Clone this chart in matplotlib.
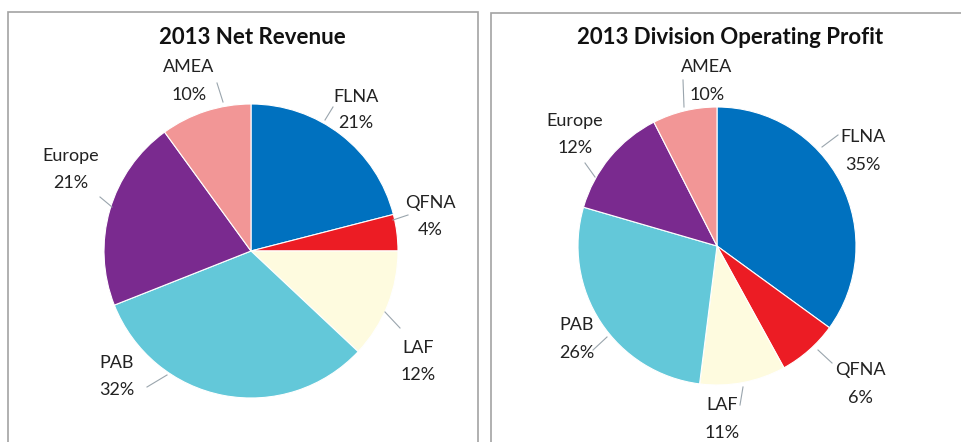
import matplotlib
matplotlib.use("Agg")
from matplotlib import pyplot as plt
from matplotlib.patches import Rectangle

plt.rcParams['font.family'] = ['Lato', 'DejaVu Sans']

divisions = ["FLNA", "QFNA", "LAF", "PAB", "Europe", "AMEA"]
colors = ["#0071BF", "#EC1C24", "#FEFBDF", "#63C8D9", "#7A2A8F", "#F29696"]

# 2013 net revenue (share, %)
revenue_values = [21, 4, 12, 32, 21, 10]
revenue_labels = ["21%", "4%", "12%", "32%", "21%", "10%"]

# 2013 division operating profit (slice sizes as drawn, labels as printed)
profit_values = [35, 7, 10, 27.5, 13, 7.5]
profit_labels = ["35%", "6%", "11%", "26%", "12%", "10%"]

W, H = 961, 442
fig = plt.figure(figsize=(W / 100, H / 100), dpi=100)
ax = fig.add_axes([0, 0, 1, 1])


def py(y):
    # pixel row -> data y (y up)
    return H - y


def draw_pie(values, center, radius):
    ax.pie(values, colors=colors, startangle=90, counterclock=False,
           center=(center[0], py(center[1])), radius=radius,
           wedgeprops=dict(edgecolor="white", linewidth=0.8))


def draw_labels(labels, spots):
    # spots: (text x, name y, pct y, leader start, leader end) in pixels
    for name, pct, (tx, ny, pcy, p0, p1) in zip(divisions, labels, spots):
        ax.text(tx, py(ny), name, ha="center", va="center", fontsize=13, color="#222222")
        ax.text(tx, py(pcy), pct, ha="center", va="center", fontsize=13, color="#222222")
        ax.plot([p0[0], p1[0]], [py(p0[1]), py(p1[1])], color="#9AA5AD", lw=0.8)


draw_pie(revenue_values, (251, 251), 147)
draw_pie(profit_values, (717, 246), 139)

rev_spots = [
    (356, 97, 123, (325, 120), (333, 107)),
    (430, 203, 230, (393, 220), (408, 215)),
    (418, 348, 375, (385, 312), (400, 328)),
    (117, 363, 390, (147, 387), (167, 375)),
    (71, 156, 183, (100, 197), (112, 207)),
    (189, 67, 95, (217, 83), (223, 102)),
]
prof_spots = [
    (863, 137, 165, (822, 147), (838, 135)),
    (860, 370, 398, (818, 350), (832, 363)),
    (722, 405, 433, (743, 387), (740, 405)),
    (577, 325, 353, (593, 350), (607, 337)),
    (575, 121, 148, (585, 163), (595, 177)),
    (707, 67, 95, (683, 80), (684, 107)),
]
draw_labels(revenue_labels, rev_spots)
draw_labels(profit_labels, prof_spots)

ax.text(252, py(38), "2013 Net Revenue", ha="center", va="center",
        fontsize=16, fontweight="bold", color="#111111")
ax.text(730, py(37), "2013 Division Operating Profit", ha="center", va="center",
        fontsize=16, fontweight="bold", color="#111111")

# panel frames
ax.add_patch(Rectangle((8, py(460)), 470, 448, fill=False, ec="#A3A3A3", lw=1.2))
ax.add_patch(Rectangle((491, py(460)), 500, 447, fill=False, ec="#A3A3A3", lw=1.2))

ax.set_xlim(0, W)
ax.set_ylim(0, H)
ax.set_aspect("auto")
ax.axis("off")

fig.savefig("out.png", dpi=100)
